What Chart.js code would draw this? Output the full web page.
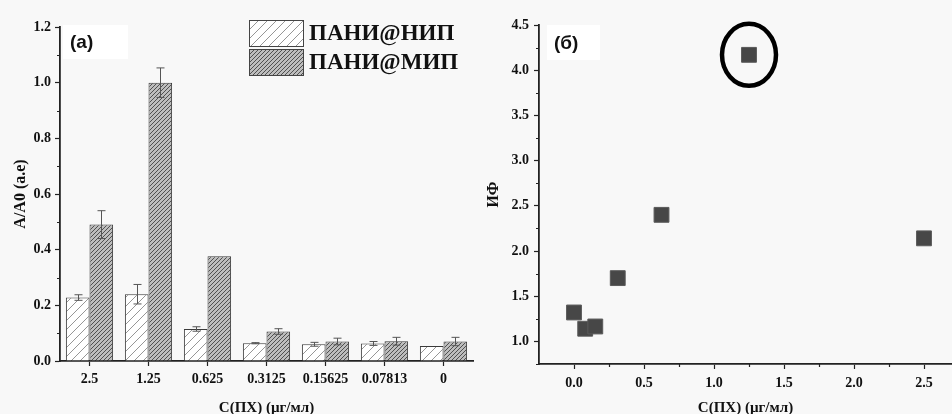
<!DOCTYPE html>
<html><head><meta charset="utf-8">
<script src="https://cdn.jsdelivr.net/npm/chart.js@4.4.1/dist/chart.umd.min.js"></script>
<style>
html,body{margin:0;padding:0;background:#f8f8f8;}
#wrap{position:relative;width:952px;height:414px;overflow:hidden;background:#f8f8f8;}
#c1{position:absolute;left:0;top:0;}
#c2{position:absolute;left:480px;top:0;}
</style></head><body>
<div id="wrap"><canvas id="c1" width="480" height="414"></canvas><canvas id="c2" width="472" height="414"></canvas></div>
<script>
// ---- data ----
const categories = ['2.5','1.25','0.625','0.3125','0.15625','0.07813','0'];
const seriesNames = ['ПАНИ@НИП','ПАНИ@МИП'];
const nipValues = [0.228,0.240,0.115,0.064,0.060,0.063,0.054];
const nipErrors = [0.010,0.035,0.008,0.002,0.007,0.007,0.000];
const mipValues = [0.490,1.000,0.376,0.106,0.070,0.071,0.070];
const mipErrors = [0.050,0.053,0.000,0.010,0.012,0.014,0.015];
const leftMinorTicks = [0.1,0.3,0.5,0.7,0.9,1.1];
const ifX = [0,0.08,0.152,0.3125,0.625,1.25,2.5];
const ifY = [1.32,1.14,1.165,1.70,2.40,4.17,2.14];
const highlightIndex = 5;
const rightXTicks = [0,0.5,1.0,1.5,2.0,2.5];
const rightYTicks = [1.0,1.5,2.0,2.5,3.0,3.5,4.0,4.5];
const rightYMinorTicks = [0.75,1.25,1.75,2.25,2.75,3.25,3.75,4.25];
const rightXMinorTicks = [0.25,0.75,1.25,1.75,2.25];
const leftAxisTitleX = 'C(ПХ) (µг/мл)';
const leftAxisTitleY = 'A/A0 (a.e)';
const rightAxisTitleY = 'ИФ';
const panelLabels = ['(a)','(б)'];

Chart.defaults.devicePixelRatio = 1;
const SERIF = '"Liberation Serif", "Times New Roman", serif';
const SANS = '"Liberation Sans", Arial, sans-serif';
const AX = '#222';

function hatch(ctx, bg, fg, s, lw) {
  const c = document.createElement('canvas'); c.width = s; c.height = s;
  const x = c.getContext('2d');
  x.fillStyle = bg; x.fillRect(0,0,s,s);
  x.strokeStyle = fg; x.lineWidth = lw; x.beginPath();
  x.moveTo(-1, s+1); x.lineTo(s+1, -1);
  x.moveTo(-2, 2); x.lineTo(2, -2);
  x.moveTo(s-2, s+2); x.lineTo(s+2, s-2);
  x.stroke();
  return ctx.createPattern(c, 'repeat');
}

const ctx1 = document.getElementById('c1').getContext('2d');
const nipFill = hatch(ctx1, '#ffffff', '#8a8a8a', 9, 0.9);
const mipFill = hatch(ctx1, '#bdbdbd', '#505050', 4, 1);

function drawMinor(chart, scaleId, values, len) {
  const sc = chart.scales[scaleId]; const c = chart.ctx;
  c.save(); c.strokeStyle = AX; c.lineWidth = 1.2; c.beginPath();
  values.forEach(v => {
    const p = Math.round(sc.getPixelForValue(v)) + 0.5;
    if (sc.isHorizontal()) { c.moveTo(p, sc.top); c.lineTo(p, sc.top + len); }
    else { c.moveTo(sc.right, p); c.lineTo(sc.right - len, p); }
  });
  c.stroke(); c.restore();
}

function panelLabel(chart, text, x0, y0, w, h) {
  const c = chart.ctx; c.save();
  c.fillStyle = '#ffffff'; c.fillRect(x0, y0, w, h);
  c.fillStyle = '#111'; c.font = 'bold 19px ' + SANS;
  c.textBaseline = 'middle'; c.textAlign = 'left';
  c.fillText(text, x0 + 7, y0 + h/2 + 1);
  c.restore();
}

const leftPlugin = {
  id: 'leftExtras',
  afterDatasetsDraw(chart) {
    const c = chart.ctx; const ys = chart.scales.y;
    const errs = [nipErrors, mipErrors]; const vals = [nipValues, mipValues];
    c.save(); c.strokeStyle = '#555'; c.lineWidth = 1;
    [0,1].forEach(di => {
      const meta = chart.getDatasetMeta(di);
      meta.data.forEach((el, i) => {
        const e = errs[di][i]; if (!e) return;
        const v = vals[di][i];
        const x = Math.round(el.x) + 0.5;
        const yt = ys.getPixelForValue(v + e), yb = ys.getPixelForValue(v - e);
        c.beginPath();
        c.moveTo(x, yt); c.lineTo(x, yb);
        c.moveTo(x - 4, yt); c.lineTo(x + 4, yt);
        c.moveTo(x - 4, yb); c.lineTo(x + 4, yb);
        c.stroke();
      });
    });
    c.restore();
  },
  afterDraw(chart) {
    drawMinor(chart, 'y', leftMinorTicks, 3);
    panelLabel(chart, panelLabels[0], 63, 25, 65, 34);
    const c = chart.ctx; c.save();
    const fills = [nipFill, mipFill];
    seriesNames.forEach((name, i) => {
      const bx = 249, by = 20 + i * 29, bw = 54, bh = 26;
      c.fillStyle = fills[i]; c.fillRect(bx, by, bw, bh);
      c.strokeStyle = '#444'; c.lineWidth = 1; c.strokeRect(bx + 0.5, by + 0.5, bw, bh);
      c.fillStyle = '#111'; c.font = 'bold 23px ' + SERIF;
      c.textBaseline = 'middle'; c.textAlign = 'left';
      c.fillText(name, 309, by + bh/2 + 1);
    });
    c.restore();
  }
};

new Chart(ctx1, {
  type: 'bar',
  data: {
    labels: categories,
    datasets: [
      { label: seriesNames[0], data: nipValues, backgroundColor: nipFill, borderColor: '#3a3a3a', borderWidth: 1, categoryPercentage: 0.8, barPercentage: 1.0 },
      { label: seriesNames[1], data: mipValues, backgroundColor: mipFill, borderColor: '#3a3a3a', borderWidth: 1, categoryPercentage: 0.8, barPercentage: 1.0 }
    ]
  },
  options: {
    responsive: false, animation: false,
    layout: { padding: { left: 0, top: 27, right: 7, bottom: 0 } },
    plugins: { legend: { display: false }, tooltip: { enabled: false } },
    scales: {
      x: {
        afterFit(s) { s.height = 53; },
        grid: { drawOnChartArea: false, offset: false, tickLength: 5, color: AX, tickWidth: 1.2 },
        border: { color: AX, width: 1.8 },
        ticks: { color: '#111', font: { family: SERIF, size: 14, weight: 'bold' }, padding: 5, maxRotation: 0, autoSkip: false },
        title: { display: true, text: leftAxisTitleX, color: '#111', font: { family: SERIF, size: 15, weight: 'bold', lineHeight: 1 }, padding: { top: 0, bottom: -2 } }
      },
      y: {
        min: 0, max: 1.2,
        afterFit(s) { s.width = 60; },
        grid: { drawOnChartArea: false, tickLength: 5, color: AX, tickWidth: 1.2 },
        border: { color: AX, width: 1.8 },
        ticks: { stepSize: 0.2, color: '#111', padding: 4, font: { family: SERIF, size: 14, weight: 'bold' }, callback: v => Number(v).toFixed(1) },
        title: { display: true, text: leftAxisTitleY, color: '#111', font: { family: SERIF, size: 16, weight: 'bold' }, padding: { top: 11, bottom: 0 } }
      }
    }
  },
  plugins: [leftPlugin]
});

const ctx2 = document.getElementById('c2').getContext('2d');
const rightPlugin = {
  id: 'rightExtras',
  afterDraw(chart) {
    drawMinor(chart, 'y', rightYMinorTicks, 3);
    drawMinor(chart, 'x', rightXMinorTicks, 3);
    panelLabel(chart, panelLabels[1], 67, 25, 53, 35);
    const c = chart.ctx;
    const cx = chart.scales.x.getPixelForValue(ifX[highlightIndex]);
    const cy = chart.scales.y.getPixelForValue(ifY[highlightIndex]);
    c.save(); c.strokeStyle = '#000'; c.lineWidth = 4.5;
    c.beginPath(); c.ellipse(cx, cy, 27, 31, 0, 0, Math.PI * 2); c.stroke();
    c.restore();
  }
};

new Chart(ctx2, {
  type: 'scatter',
  data: {
    datasets: [{
      data: ifX.map((x, i) => ({ x, y: ifY[i] })),
      pointStyle: 'rect', pointRadius: 10.5, pointHoverRadius: 10.5,
      backgroundColor: '#474747', borderColor: '#5a5a5a', borderWidth: 1
    }]
  },
  options: {
    responsive: false, animation: false,
    layout: { autoPadding: false, padding: { left: 0, top: 25, right: 0, bottom: 0 } },
    plugins: { legend: { display: false }, tooltip: { enabled: false } },
    scales: {
      x: {
        type: 'linear', min: -0.25, max: 2.7,
        afterFit(s) { s.height = 50; s.paddingRight = 0; },
        afterBuildTicks(s) { s.ticks = rightXTicks.map(v => ({ value: v })); },
        grid: { drawOnChartArea: false, tickLength: 5, color: AX, tickWidth: 1.2 },
        border: { color: AX, width: 1.8 },
        ticks: { color: '#111', padding: 6, font: { family: SERIF, size: 14, weight: 'bold' }, callback: v => Number(v).toFixed(1) },
        title: { display: true, text: leftAxisTitleX, color: '#111', font: { family: SERIF, size: 15, weight: 'bold', lineHeight: 1 }, padding: { top: 0, bottom: -2 } }
      },
      y: {
        min: 0.75, max: 4.5,
        afterFit(s) { s.width = 59; },
        afterBuildTicks(s) { s.ticks = rightYTicks.map(v => ({ value: v })); },
        grid: { drawOnChartArea: false, tickLength: 5, color: AX, tickWidth: 1.2 },
        border: { color: AX, width: 1.8 },
        ticks: { color: '#111', padding: 5, font: { family: SERIF, size: 14, weight: 'bold' }, callback: v => Number(v).toFixed(1) },
        title: { display: true, text: rightAxisTitleY, color: '#111', font: { family: SERIF, size: 16, weight: 'bold' }, padding: { top: 4, bottom: 0 } }
      }
    }
  },
  plugins: [rightPlugin]
});
</script>
</body></html>
